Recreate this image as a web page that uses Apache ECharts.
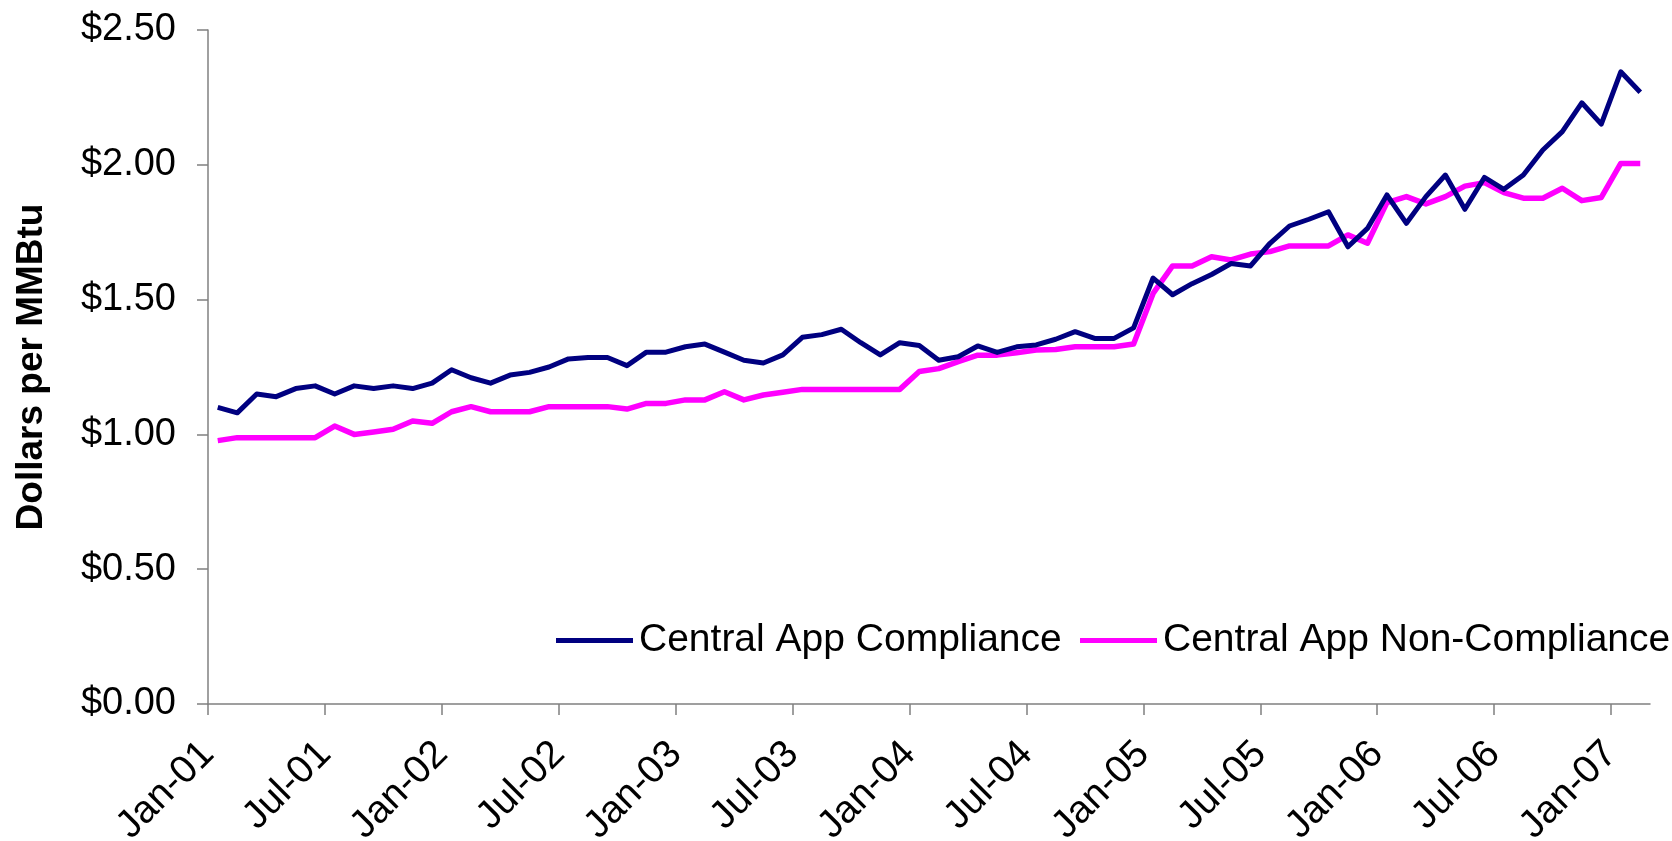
<!DOCTYPE html>
<html>
<head>
<meta charset="utf-8">
<script src="https://cdn.jsdelivr.net/npm/echarts@6/dist/echarts.min.js"></script>
<style>
html,body{margin:0;padding:0;background:#fff;}
#chart{width:1672px;height:841px;}
</style>
</head>
<body>
<div id="chart"></div>
<script>
var months = [
 'Jan-01','Feb-01','Mar-01','Apr-01','May-01','Jun-01','Jul-01','Aug-01','Sep-01','Oct-01','Nov-01','Dec-01',
 'Jan-02','Feb-02','Mar-02','Apr-02','May-02','Jun-02','Jul-02','Aug-02','Sep-02','Oct-02','Nov-02','Dec-02',
 'Jan-03','Feb-03','Mar-03','Apr-03','May-03','Jun-03','Jul-03','Aug-03','Sep-03','Oct-03','Nov-03','Dec-03',
 'Jan-04','Feb-04','Mar-04','Apr-04','May-04','Jun-04','Jul-04','Aug-04','Sep-04','Oct-04','Nov-04','Dec-04',
 'Jan-05','Feb-05','Mar-05','Apr-05','May-05','Jun-05','Jul-05','Aug-05','Sep-05','Oct-05','Nov-05','Dec-05',
 'Jan-06','Feb-06','Mar-06','Apr-06','May-06','Jun-06','Jul-06','Aug-06','Sep-06','Oct-06','Nov-06','Dec-06',
 'Jan-07','Feb-07'
];
var tickLabels = ['Jan-01','Jul-01','Jan-02','Jul-02','Jan-03','Jul-03','Jan-04','Jul-04','Jan-05','Jul-05','Jan-06','Jul-06','Jan-07'];

var compliance = [
 1.10,1.08,1.15,1.14,1.17,1.18,1.15,1.18,1.17,1.18,1.17,1.19,
 1.24,1.21,1.19,1.22,1.23,1.25,1.28,1.285,1.285,1.255,1.305,1.305,
 1.325,1.335,1.305,1.275,1.265,1.295,1.36,1.37,1.39,1.34,1.295,1.34,
 1.33,1.275,1.288,1.328,1.304,1.325,1.332,1.353,1.381,1.356,1.356,1.395,
 1.58,1.518,1.559,1.593,1.634,1.625,1.709,1.773,1.798,1.826,1.696,1.764,
 1.888,1.783,1.882,1.962,1.835,1.953,1.909,1.962,2.055,2.123,2.23,2.151,
 2.345,2.269
];
var nonCompliance = [
 0.977,0.988,0.988,0.988,0.988,0.988,1.031,1.00,1.009,1.019,1.05,1.041,
 1.084,1.103,1.084,1.084,1.084,1.103,1.103,1.103,1.103,1.094,1.115,1.115,
 1.128,1.128,1.158,1.128,1.146,1.156,1.167,1.167,1.167,1.167,1.167,1.167,
 1.233,1.244,1.27,1.294,1.294,1.303,1.313,1.315,1.325,1.325,1.325,1.335,
 1.523,1.625,1.625,1.659,1.647,1.669,1.678,1.699,1.699,1.699,1.74,1.709,
 1.86,1.882,1.855,1.882,1.921,1.934,1.897,1.876,1.876,1.913,1.867,1.879,
 2.005,2.005
];
var seriesNames = ['Central App Compliance','Central App Non-Compliance'];

// each month is drawn at the middle of its month slot on a month-count axis
function toPoints(arr){ return arr.map(function(v,i){ return [i + 0.5, v]; }); }
var tickPositions = tickLabels.map(function(l){ return months.indexOf(l); });
var axisEnd = months.length; // axis runs to the start of the following month

var chart = echarts.init(document.getElementById('chart'), null, {renderer:'canvas'});
var font = 'Liberation Sans, Arial, sans-serif';
function legendAt(left, name){
  return {
    left:left, top:621, padding:0,
    itemWidth:77, itemHeight:5,
    icon:'rect',
    textStyle:{fontFamily:font, fontSize:39, color:'#000', padding:[0,0,0,1]},
    data:[name]
  };
}
chart.setOption({
  animation:false,
  backgroundColor:'#ffffff',
  grid:{left:208, right:22, top:30, bottom:137, containLabel:false, outerBoundsMode:'none'},
  legend:[legendAt(556, seriesNames[0]), legendAt(1080, seriesNames[1])],
  xAxis:{
    type:'value', min:0, max:axisEnd,
    splitLine:{show:false},
    axisLine:{show:true, lineStyle:{color:'#808080', width:1.5}},
    axisTick:{show:true, length:11, inside:false, customValues:tickPositions, lineStyle:{color:'#808080', width:1.5}},
    axisLabel:{
      customValues:tickPositions,
      rotate:45, margin:44,
      fontFamily:font, fontSize:39, color:'#000',
      formatter:function(v){ return months[Math.round(v)] || ''; }
    }
  },
  yAxis:{
    type:'value', min:0, max:2.5, interval:0.5,
    name:'Dollars per MMBtu', nameLocation:'middle', nameGap:158, nameRotate:90,
    nameTextStyle:{fontFamily:font, fontSize:37, fontWeight:'bold', color:'#000'},
    splitLine:{show:false},
    axisLine:{show:true, lineStyle:{color:'#808080', width:1.5}},
    axisTick:{show:true, length:11, inside:false, lineStyle:{color:'#808080', width:1.5}},
    axisLabel:{
      margin:32, fontFamily:font, fontSize:38, color:'#000',
      formatter:function(v){ return '$' + v.toFixed(2); }
    }
  },
  series:[
    {name:seriesNames[0], type:'line', data:toPoints(compliance), symbol:'none',
     itemStyle:{color:'#000080'}, lineStyle:{color:'#000080', width:5, join:'round'}, z:3},
    {name:seriesNames[1], type:'line', data:toPoints(nonCompliance), symbol:'none',
     itemStyle:{color:'#FF00FF'}, lineStyle:{color:'#FF00FF', width:5.5, join:'round'}, z:2}
  ]
});
</script>
</body>
</html>
